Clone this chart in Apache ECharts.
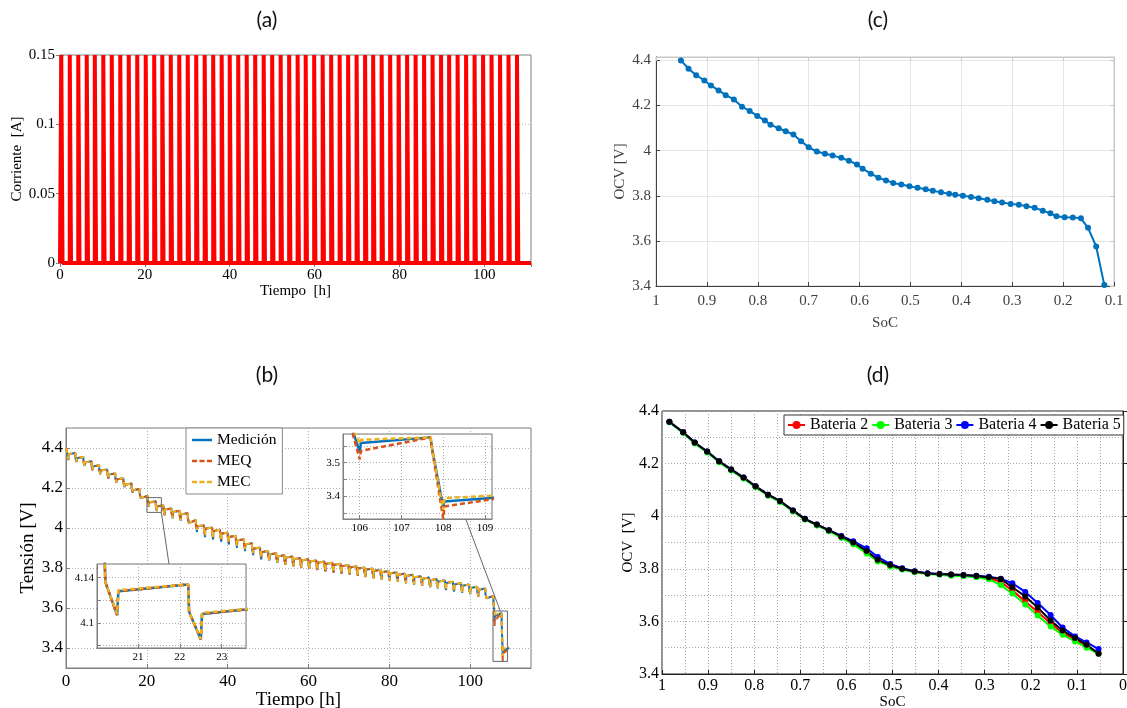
<!DOCTYPE html>
<html><head><meta charset="utf-8">
<script src="https://cdn.jsdelivr.net/npm/echarts@6/dist/echarts.min.js"></script>
<style>html,body{margin:0;padding:0;background:#fff}#c{width:1127px;height:708px}</style>
</head><body><div id="c"></div>
<script>
// ---------- (a) current pulses ----------
const pulseStart = [0.3,2.3,4.3,6.3,8.2,10.2,12.2,14.2,16.2,18.2,20.2,22.2,24.1,26.1,28.1,30.1,32.1,34.1,36.1,38.1,40.0,42.0,44.0,46.0,48.0,50.0,52.0,54.0,56.0,57.9,59.9,61.9,63.9,65.9,67.9,69.9,71.9,73.8,75.8,77.8,79.8,81.8,83.8,85.8,87.8,89.8,91.7,93.7,95.7,97.7,99.7,101.7,103.7,105.7,107.7];
const pulseLen = 0.3;
const pulseAmp = 0.15;
const currentEnd = 111;

// ---------- (b) voltage ----------
const restV = [4.400,4.375,4.355,4.334,4.314,4.293,4.273,4.249,4.222,4.195,4.160,4.134,4.114,4.098,4.086,4.074,4.040,4.014,4.002,3.991,3.977,3.961,3.944,3.924,3.902,3.885,3.874,3.864,3.857,3.850,3.844,3.838,3.832,3.826,3.821,3.815,3.809,3.803,3.797,3.791,3.785,3.779,3.772,3.766,3.759,3.752,3.745,3.738,3.731,3.724,3.717,3.706,3.697,3.660,3.575];
const measDip = [4.340,4.330,4.310,4.289,4.269,4.248,4.228,4.204,4.177,4.150,4.107,4.0855,4.064,4.048,4.036,4.024,3.980,3.954,3.942,3.931,3.917,3.901,3.884,3.864,3.842,3.837,3.826,3.816,3.809,3.802,3.796,3.790,3.784,3.778,3.773,3.767,3.761,3.755,3.749,3.743,3.737,3.731,3.724,3.718,3.711,3.704,3.697,3.690,3.683,3.676,3.669,3.658,3.649,3.533,3.368];
const meqDip  = [4.340,4.330,4.310,4.289,4.269,4.248,4.228,4.204,4.177,4.150,4.107,4.0855,4.064,4.048,4.036,4.024,3.990,3.964,3.952,3.941,3.927,3.911,3.894,3.874,3.852,3.837,3.826,3.816,3.809,3.802,3.796,3.790,3.784,3.778,3.773,3.767,3.761,3.755,3.749,3.743,3.737,3.731,3.724,3.718,3.711,3.704,3.697,3.690,3.683,3.676,3.669,3.658,3.649,3.510,3.335];
const mecDip  = [4.342,4.331,4.311,4.290,4.270,4.249,4.229,4.205,4.178,4.151,4.108,4.086,4.065,4.049,4.037,4.025,3.990,3.964,3.952,3.941,3.927,3.911,3.894,3.874,3.852,3.838,3.827,3.817,3.810,3.803,3.797,3.791,3.785,3.779,3.774,3.768,3.762,3.756,3.750,3.744,3.738,3.732,3.725,3.719,3.712,3.705,3.698,3.691,3.684,3.677,3.670,3.659,3.650,3.556,3.360];
const measRec = [4.369,4.349,4.328,4.308,4.287,4.267,4.243,4.216,4.189,4.154,4.128,4.108,4.092,4.080,4.068,4.034,4.008,3.996,3.985,3.971,3.955,3.938,3.918,3.896,3.879,3.868,3.858,3.851,3.844,3.838,3.832,3.826,3.820,3.815,3.809,3.803,3.797,3.791,3.785,3.779,3.773,3.766,3.760,3.753,3.746,3.739,3.732,3.725,3.718,3.711,3.700,3.691,3.654,3.558,3.385];
const meqRec  = [4.369,4.349,4.328,4.308,4.287,4.267,4.243,4.216,4.189,4.154,4.128,4.108,4.092,4.080,4.068,4.034,4.008,3.996,3.985,3.971,3.955,3.938,3.918,3.896,3.879,3.868,3.858,3.851,3.844,3.838,3.832,3.826,3.820,3.815,3.809,3.803,3.797,3.791,3.785,3.779,3.773,3.766,3.760,3.753,3.746,3.739,3.732,3.725,3.718,3.711,3.700,3.691,3.654,3.535,3.370];
const mecRec  = [4.370,4.350,4.329,4.309,4.288,4.268,4.244,4.217,4.190,4.155,4.129,4.109,4.093,4.081,4.069,4.035,4.009,3.997,3.986,3.972,3.956,3.939,3.919,3.897,3.880,3.869,3.859,3.852,3.845,3.839,3.833,3.827,3.821,3.816,3.810,3.804,3.798,3.792,3.786,3.780,3.774,3.767,3.761,3.754,3.747,3.740,3.733,3.726,3.719,3.712,3.701,3.692,3.655,3.568,3.395];
const irDrop = 0.024;
const voltEndTime = 109.6;
const measEnd = 3.400, meqEnd = 3.400, mecEnd = 3.405;

const inset1X = [20.02, 23.58], inset1Y = [4.078, 4.152], inset1YLabels = [4.1, 4.14];
const inset2X = [105.6, 109.17], inset2Y = [3.333, 3.585], inset2YLabels = [3.4, 3.5];

// ---------- (c) OCV vs SoC ----------
const socC = [0.951,0.936,0.921,0.905,0.892,0.877,0.863,0.847,0.831,0.816,0.801,0.786,0.775,0.759,0.745,0.730,0.715,0.700,0.684,0.668,0.653,0.636,0.621,0.605,0.594,0.578,0.563,0.548,0.534,0.518,0.502,0.486,0.470,0.456,0.440,0.424,0.412,0.397,0.381,0.366,0.349,0.335,0.320,0.303,0.287,0.272,0.256,0.240,0.225,0.213,0.197,0.181,0.165,0.151,0.135,0.119];
const ocvC = [4.400,4.363,4.334,4.311,4.289,4.267,4.246,4.227,4.195,4.176,4.154,4.133,4.115,4.099,4.086,4.071,4.042,4.015,3.996,3.986,3.978,3.968,3.955,3.939,3.920,3.898,3.880,3.868,3.857,3.850,3.842,3.835,3.829,3.822,3.815,3.809,3.805,3.800,3.795,3.789,3.782,3.776,3.770,3.764,3.760,3.754,3.747,3.734,3.722,3.709,3.705,3.704,3.700,3.658,3.575,3.404];

// ---------- (d) OCV of batteries ----------
const socD = [0.984,0.954,0.929,0.902,0.876,0.850,0.823,0.797,0.770,0.744,0.716,0.690,0.664,0.638,0.611,0.585,0.556,0.532,0.505,0.479,0.452,0.424,0.398,0.373,0.346,0.318,0.291,0.265,0.240,0.212,0.185,0.157,0.131,0.104,0.079,0.053];
const bat2 = [4.358,4.318,4.278,4.244,4.207,4.176,4.145,4.112,4.080,4.056,4.020,3.988,3.966,3.945,3.920,3.898,3.864,3.832,3.812,3.799,3.789,3.781,3.779,3.777,3.775,3.771,3.765,3.750,3.718,3.676,3.636,3.593,3.556,3.530,3.507,3.480];
const bat3 = [4.357,4.316,4.276,4.242,4.205,4.174,4.143,4.110,4.078,4.054,4.018,3.987,3.965,3.943,3.918,3.893,3.858,3.828,3.809,3.797,3.787,3.780,3.777,3.774,3.772,3.768,3.760,3.738,3.706,3.664,3.622,3.581,3.549,3.524,3.500,3.477];
const bat4 = [4.359,4.319,4.280,4.246,4.209,4.178,4.147,4.114,4.082,4.058,4.022,3.990,3.968,3.947,3.925,3.905,3.878,3.845,3.818,3.802,3.791,3.783,3.780,3.778,3.776,3.774,3.770,3.762,3.745,3.712,3.670,3.624,3.577,3.543,3.520,3.495];
const bat5 = [4.359,4.319,4.280,4.246,4.209,4.178,4.147,4.114,4.082,4.058,4.022,3.990,3.968,3.947,3.923,3.900,3.868,3.834,3.814,3.800,3.790,3.782,3.780,3.778,3.776,3.773,3.768,3.761,3.730,3.695,3.653,3.603,3.565,3.537,3.511,3.477];

// ---------- build tables ----------
const currentData = [[0, 0]];
pulseStart.forEach(t => { currentData.push([t, 0], [t, pulseAmp], [t + pulseLen, pulseAmp], [t + pulseLen, 0]); });
currentData.push([currentEnd, 0]);

function buildVoltage(dip, rec, endV) {
  const pts = [[0, restV[0]]];
  pulseStart.forEach((t, k) => {
    pts.push([t, restV[k]]);
    pts.push([t + 0.02, restV[k] - irDrop]);
    pts.push([t + pulseLen, dip[k]]);
    pts.push([t + pulseLen + 0.03, rec[k]]);
  });
  pts.push([voltEndTime, endV]);
  return pts;
}
const measData = buildVoltage(measDip, measRec, measEnd);
const meqData = buildVoltage(meqDip, meqRec, meqEnd);
const mecData = buildVoltage(mecDip, mecRec, mecEnd);
const zip = (xs, ys) => xs.map((x, i) => [x, ys[i]]);
const boxOf = (X, Y) => [[X[0], Y[0]], [X[1], Y[0]], [X[1], Y[1]], [X[0], Y[1]], [X[0], Y[0]]];

const SERIF = 'Liberation Serif';
const C_BLUE = '#0072BD', C_ORANGE = '#D95319', C_YELLOW = '#EDB120';

function axis(o) {
  const base = {
    type: 'value', scale: false,
    axisLine: { show: true, lineStyle: { color: o.lineColor || '#808080', width: 1 } },
    axisTick: { show: true, inside: true, length: 4, lineStyle: { color: o.lineColor || '#808080' } },
    axisLabel: { fontFamily: SERIF, fontSize: o.fs || 15, color: o.labelColor || '#000', margin: o.margin == null ? 5 : o.margin,
                 showMinLabel: o.showMin !== false, showMaxLabel: o.showMax !== false, formatter: o.formatter },
    splitLine: o.split || { show: false },
    nameTextStyle: { fontFamily: SERIF, fontSize: o.nfs || 15, color: o.labelColor || '#000' },
    nameLocation: 'middle'
  };
  delete o.lineColor; delete o.fs; delete o.labelColor; delete o.margin; delete o.showMin; delete o.showMax; delete o.formatter; delete o.split; delete o.nfs;
  return Object.assign(base, o);
}
const dotted = c => ({ show: true, lineStyle: { type: [1, 2], color: c || '#b0b0b0', width: 1 } });
const onlyLabels = list => v => { const r = Math.round(v * 1000) / 1000; return list.some(l => Math.abs(l - r) < 1e-6) ? String(r) : ''; };

const chart = echarts.init(document.getElementById('c'), null, { renderer: 'canvas' });

const grids = [
  { left: 60, top: 55, width: 471, height: 208, show: true, borderColor: '#808080', outerBoundsMode: 'none' },
  { left: 66, top: 428, width: 465, height: 240, show: true, borderColor: '#808080', outerBoundsMode: 'none' },
  { left: 656, top: 57, width: 458, height: 229, show: true, borderColor: '#c8c8c8', outerBoundsMode: 'none' },
  { left: 662, top: 411, width: 461, height: 263, show: true, borderColor: '#222', outerBoundsMode: 'none' },
  { left: 97, top: 564, width: 149, height: 84, show: true, borderColor: '#777', backgroundColor: '#fff', z: 4, outerBoundsMode: 'none' },
  { left: 343, top: 434, width: 149, height: 85, show: true, borderColor: '#777', backgroundColor: '#fff', z: 4, outerBoundsMode: 'none' }
];

const xAxes = [
  axis({ gridIndex: 0, min: 0, max: currentEnd, interval: 20, showMax: false, fs: 15, name: 'Tiempo  [h]', nameGap: 20 }),
  axis({ gridIndex: 1, min: 0, max: 115, interval: 20, showMax: false, fs: 17, split: dotted(), name: 'Tiempo [h]', nfs: 19, nameGap: 19 }),
  axis({ gridIndex: 2, min: 0.1, max: 1, interval: 0.1, inverse: true, fs: 15, labelColor: '#404040', lineColor: '#404040', margin: 8,
         split: { show: true, lineStyle: { color: '#e6e6e6' } }, name: 'SoC', nfs: 15, nameGap: 30 }),
  axis({ gridIndex: 3, min: 0, max: 1, interval: 0.1, inverse: true, fs: 16, lineColor: '#222', margin: 4,
         split: dotted('#a8a8a8'), minorTick: { show: false, splitNumber: 2 },
         minorSplitLine: { show: true, lineStyle: { type: [1, 2], color: '#a8a8a8' } }, name: 'SoC', nfs: 15, nameGap: 19 }),
  axis({ gridIndex: 4, min: inset1X[0], max: inset1X[1], minInterval: 1, maxInterval: 1, splitNumber: 3, showMin: false, showMax: false,
         fs: 11, margin: 4, split: dotted('#aaa'), z: 5 }),
  axis({ gridIndex: 5, min: inset2X[0], max: inset2X[1], minInterval: 1, maxInterval: 1, splitNumber: 3, showMin: false, showMax: false,
         fs: 11, margin: 4, split: dotted('#aaa'), z: 5 })
];
const yAxes = [
  axis({ gridIndex: 0, min: 0, max: pulseAmp, interval: 0.05, fs: 15, split: dotted('#bbb'), name: 'Corriente  [A]', nameGap: 32 }),
  axis({ gridIndex: 1, min: 3.3, max: 4.5, minInterval: 0.2, maxInterval: 0.2, splitNumber: 6, showMin: false, showMax: false, fs: 17,
         margin: 3, split: dotted(), name: 'Tensión [V]', nfs: 19, nameGap: 23 }),
  axis({ gridIndex: 2, min: 3.4, max: 4.415, interval: 0.2, showMax: false, fs: 15, labelColor: '#404040', lineColor: '#404040',
         split: { show: true, lineStyle: { color: '#e6e6e6' } }, name: 'OCV [V]', nfs: 15, nameGap: 28 }),
  axis({ gridIndex: 3, min: 3.4, max: 4.4, interval: 0.2, fs: 16, lineColor: '#222', margin: 3, split: dotted('#a8a8a8'),
         minorTick: { show: false, splitNumber: 2 }, minorSplitLine: { show: true, lineStyle: { type: [1, 2], color: '#a8a8a8' } },
         name: 'OCV  [V]', nfs: 15, nameGap: 23 }),
  axis({ gridIndex: 4, min: inset1Y[0], max: inset1Y[1], minInterval: 0.02, maxInterval: 0.02, splitNumber: 4, showMin: false, showMax: false,
         fs: 11, margin: 3, split: dotted('#aaa'), formatter: onlyLabels(inset1YLabels), z: 5 }),
  axis({ gridIndex: 5, min: inset2Y[0], max: inset2Y[1], minInterval: 0.05, maxInterval: 0.05, splitNumber: 5, showMin: false, showMax: false,
         fs: 11, margin: 3, split: dotted('#aaa'), formatter: onlyLabels(inset2YLabels), z: 5 })
];
// extra tick-only axes on the top/right of (a) and (c)
xAxes.push(axis({ gridIndex: 2, min: 0.1, max: 1, interval: 0.1, inverse: true, position: 'top', lineColor: '#c8c8c8', axisLabel: { show: false } }));
yAxes.push(axis({ gridIndex: 2, min: 3.4, max: 4.415, interval: 0.2, position: 'right', lineColor: '#c8c8c8', axisLabel: { show: false } }));
xAxes.push(axis({ gridIndex: 0, min: 0, max: currentEnd, interval: 20, position: 'top', axisLabel: { show: false } }));
yAxes.push(axis({ gridIndex: 0, min: 0, max: pulseAmp, interval: 0.05, position: 'right', axisLabel: { show: false } }));

const vLine = (name, data, color, dashed, xi, w, z) => ({
  name, type: 'line', data, xAxisIndex: xi, yAxisIndex: xi, symbol: 'none', z: z || 2, silent: true,
  lineStyle: { color, width: w, type: dashed ? [5, 3] : 'solid' }, itemStyle: { color }, animation: false
});
const batLine = (name, data, color) => ({
  name, type: 'line', data: zip(socD, data), xAxisIndex: 3, yAxisIndex: 3, symbol: 'circle', symbolSize: 6,
  lineStyle: { color, width: 2 }, itemStyle: { color }, animation: false
});

const series = [
  { type: 'line', data: currentData, xAxisIndex: 0, yAxisIndex: 0, symbol: 'none', lineStyle: { color: '#ff0000', width: 4 }, animation: false, silent: true },
  vLine('Medición', measData, C_BLUE, false, 1, 2),
  vLine('MEQ', meqData, C_ORANGE, true, 1, 2),
  vLine('MEC', mecData, C_YELLOW, true, 1, 2),
  { type: 'line', data: boxOf(inset1X, inset1Y), xAxisIndex: 1, yAxisIndex: 1, symbol: 'none', lineStyle: { color: '#666', width: 1 }, z: 3, silent: true, animation: false },
  { type: 'line', data: boxOf(inset2X, inset2Y), xAxisIndex: 1, yAxisIndex: 1, symbol: 'none', lineStyle: { color: '#666', width: 1 }, z: 3, silent: true, animation: false },
  vLine('Medición', measData, C_BLUE, false, 4, 2.5, 6),
  vLine('MEQ', meqData, C_ORANGE, true, 4, 2.5, 6),
  vLine('MEC', mecData, C_YELLOW, true, 4, 2.5, 6),
  vLine('Medición', measData, C_BLUE, false, 5, 2.5, 6),
  vLine('MEQ', meqData, C_ORANGE, true, 5, 2.5, 6),
  vLine('MEC', mecData, C_YELLOW, true, 5, 2.5, 6),
  { type: 'line', data: zip(socC, ocvC), xAxisIndex: 2, yAxisIndex: 2, symbol: 'circle', symbolSize: 6,
    lineStyle: { color: C_BLUE, width: 2 }, itemStyle: { color: C_BLUE }, animation: false },
  batLine('Bateria 2', bat2, '#ff0000'),
  batLine('Bateria 3', bat3, '#00ff00'),
  batLine('Bateria 4', bat4, '#0000ff'),
  batLine('Bateria 5', bat5, '#000000')
];

const titleText = (t, x, y) => ({ type: 'text', x, y, style: { text: t, fontFamily: 'Lato', fontSize: 21, fill: '#111', align: 'center', verticalAlign: 'middle' } });
const SOLID_ICON = 'path://M0,0h20v2.4h-20z';
const DASH_ICON = 'path://M0,0h5v2.4h-5z M7.5,0h5v2.4h-5z M15,0h5v2.4h-5z';

chart.setOption({
  animation: false,
  backgroundColor: '#fff',
  grid: grids, xAxis: xAxes, yAxis: yAxes, series,
  legend: [
    { orient: 'vertical', left: 186, top: 428, padding: [4, 6, 4, 6], itemGap: 5, itemWidth: 20, itemHeight: 2.4,
      backgroundColor: '#fff', borderColor: '#888', borderWidth: 1, borderRadius: 0, selectedMode: false,
      textStyle: { fontFamily: SERIF, fontSize: 15.5, color: '#000' },
      data: [{ name: 'Medición', icon: SOLID_ICON }, { name: 'MEQ', icon: DASH_ICON }, { name: 'MEC', icon: DASH_ICON }] },
    { orient: 'horizontal', left: 784, top: 415, padding: [2, 3], itemGap: 3, itemWidth: 17, itemHeight: 10,
      backgroundColor: '#fff', borderColor: '#333', borderWidth: 1, borderRadius: 0, selectedMode: false,
      textStyle: { fontFamily: SERIF, fontSize: 16, color: '#000' }, data: ['Bateria 2', 'Bateria 3', 'Bateria 4', 'Bateria 5'] }
  ]
});

const p1a = chart.convertToPixel({ gridIndex: 1 }, [inset1X[1], inset1Y[0]]);
const p1b = chart.convertToPixel({ gridIndex: 4 }, [21.74, inset1Y[1]]);
const p2a = chart.convertToPixel({ gridIndex: 1 }, [107.4, inset2Y[1]]);
const p2b = chart.convertToPixel({ gridIndex: 5 }, [108.54, inset2Y[0]]);
const conn = (a, b) => ({ type: 'line', z: 10, shape: { x1: a[0], y1: a[1], x2: b[0], y2: b[1] }, style: { stroke: '#666', lineWidth: 1 } });

chart.setOption({
  graphic: [
    titleText('(a)', 267, 20), titleText('(c)', 878, 20), titleText('(b)', 267, 375), titleText('(d)', 878, 375),
    conn(p1a, p1b), conn(p2a, p2b)
  ]
});
</script>
</body></html>
